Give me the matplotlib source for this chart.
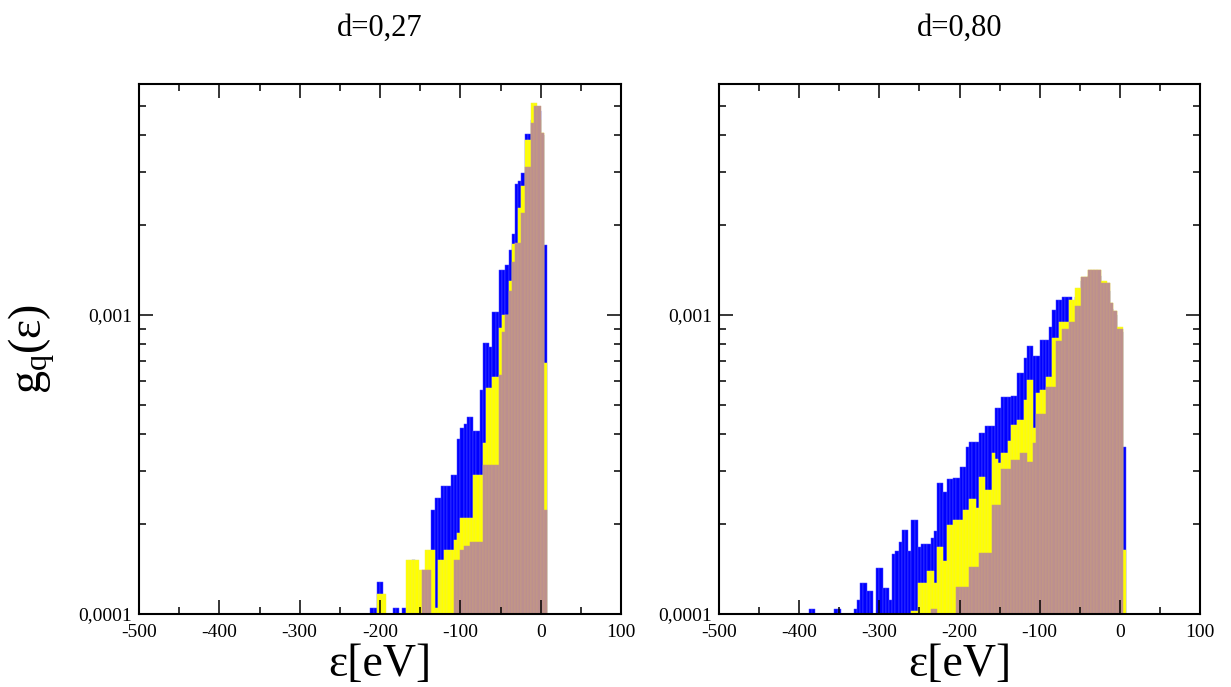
import numpy as np
import matplotlib
matplotlib.use("Agg")
import matplotlib.pyplot as plt
from matplotlib.ticker import FixedLocator, FixedFormatter, LogLocator, NullFormatter, MultipleLocator

plt.rcParams['font.family'] = ['Liberation Serif', 'DejaVu Serif']
plt.rcParams['mathtext.fontset'] = 'custom'
plt.rcParams['mathtext.rm'] = 'Liberation Serif'
plt.rcParams['mathtext.it'] = 'Liberation Serif'

# histogram bin width in eV
BIN = 4.0

# ---- panel d=0,27 : left edge of first bin and bar heights g_q(eps) ----
left_blue_start = -212
left_blue = [1.05e-4, 1.05e-4, 1.28e-4, 1.28e-4, 0, 0, 0, 1.05e-4, 1.05e-4, 0,
             1.05e-4, 0, 0, 1.52e-4, 1.2e-4, 1.2e-4, 1.2e-4, 1.3e-4, 1.3e-4, 2.22e-4,
             2.44e-4, 2.44e-4, 2.68e-4, 2.68e-4, 2.68e-4, 2.92e-4, 2.92e-4, 3.84e-4, 4.19e-4, 4.32e-4,
             4.56e-4, 4.56e-4, 4.08e-4, 4.08e-4, 5.61e-4, 8.04e-4, 8.04e-4, 7.82e-4, 1.02e-3, 1.02e-3,
             1.41e-3, 1.41e-3, 1.47e-3, 1.65e-3, 1.87e-3, 2.74e-3, 2.80e-3, 2.99e-3, 4.03e-3, 4.03e-3,
             4.5e-3, 4.8e-3, 4.8e-3, 4.0e-3, 1.71e-3]

left_yellow_start = -204
left_yellow = [1.17e-4, 1.17e-4, 1.17e-4, 0, 0, 0, 0, 0, 0,
               1.52e-4, 1.52e-4, 1.52e-4, 1.52e-4, 1.40e-4, 1.40e-4, 1.64e-4, 1.64e-4, 1.64e-4,
               1.05e-4, 1.52e-4, 1.52e-4, 1.64e-4, 1.64e-4, 1.64e-4, 1.77e-4, 1.87e-4, 2.09e-4,
               2.09e-4, 2.09e-4, 2.09e-4, 2.92e-4, 2.92e-4, 2.92e-4, 3.73e-4, 5.70e-4, 5.70e-4,
               6.20e-4, 6.20e-4, 9.05e-4, 1.0e-3, 1.0e-3, 1.3e-3, 1.73e-3, 1.73e-3, 2.28e-3,
               2.70e-3, 3.85e-3, 3.85e-3, 5.1e-3, 5.1e-3, 4.5e-3, 4.05e-3, 6.9e-4]

left_brown_start = -148
left_brown = [1.4e-4, 1.4e-4, 1.4e-4, 0, 0, 0, 0, 0, 0, 0,
              1.52e-4, 1.52e-4, 1.64e-4, 1.69e-4, 1.69e-4, 1.74e-4, 1.74e-4, 1.74e-4, 1.74e-4,
              3.15e-4, 3.15e-4, 3.15e-4, 3.15e-4, 3.15e-4, 6.3e-4, 8.8e-4, 1.0e-3, 1.2e-3, 1.5e-3,
              1.74e-3, 1.74e-3, 2.2e-3, 3.13e-3, 3.13e-3, 4.39e-3, 5.01e-3, 5.01e-3, 4.05e-3, 2.23e-4]

# ---- panel d=0,80 ----
right_blue_start = -392
right_blue = [0, 1.04e-4, 1.04e-4, 0, 0, 0, 0, 0, 0, 1.04e-4,
              1.04e-4, 0, 0, 0, 0, 1.04e-4, 1.11e-4, 1.27e-4, 1.27e-4, 1.19e-4,
              1.19e-4, 0, 1.43e-4, 1.43e-4, 1.22e-4, 1.22e-4, 1.11e-4, 1.59e-4, 1.63e-4, 1.74e-4,
              1.91e-4, 1.91e-4, 1.62e-4, 2.07e-4, 2.07e-4, 1.68e-4, 1.71e-4, 1.71e-4, 1.71e-4, 1.79e-4,
              1.90e-4, 2.74e-4, 2.74e-4, 2.55e-4, 2.82e-4, 2.82e-4, 2.86e-4, 2.86e-4, 3.10e-4, 3.10e-4,
              3.63e-4, 3.77e-4, 3.77e-4, 3.77e-4, 4.03e-4, 4.03e-4, 4.26e-4, 4.26e-4, 4.26e-4, 4.88e-4,
              4.88e-4, 5.33e-4, 5.33e-4, 5.33e-4, 5.36e-4, 5.36e-4, 6.42e-4, 6.42e-4, 7.20e-4, 7.90e-4,
              7.90e-4, 7.29e-4, 7.29e-4, 8.25e-4, 8.25e-4, 8.25e-4, 9.11e-4, 1.04e-3, 1.12e-3, 1.12e-3,
              1.15e-3, 1.15e-3, 1.15e-3, 1.10e-3, 1.15e-3, 1.2e-3, 1.3e-3, 1.3e-3, 1.35e-3, 1.35e-3,
              1.35e-3, 1.35e-3, 1.25e-3, 1.25e-3, 1.2e-3, 1.05e-3, 1.0e-3, 8.8e-4, 8.8e-4, 3.63e-4]

right_yellow_start = -260
right_yellow = [1.02e-4, 1.02e-4, 1.27e-4, 1.27e-4, 1.27e-4, 1.39e-4, 1.39e-4, 1.27e-4, 1.68e-4, 1.68e-4,
                1.50e-4, 1.99e-4, 1.99e-4, 2.07e-4, 2.07e-4, 2.07e-4, 2.23e-4, 2.23e-4, 2.43e-4, 2.43e-4,
                2.26e-4, 2.87e-4, 2.87e-4, 2.60e-4, 2.60e-4, 3.45e-4, 3.30e-4, 3.20e-4, 3.45e-4, 3.45e-4,
                3.80e-4, 4.30e-4, 4.30e-4, 4.45e-4, 4.45e-4, 5.20e-4, 6.06e-4, 6.06e-4, 4.19e-4, 5.49e-4,
                5.61e-4, 5.61e-4, 6.22e-4, 6.22e-4, 8.38e-4, 8.38e-4, 9.50e-4, 9.50e-4, 9.50e-4, 1.12e-3,
                1.12e-3, 1.23e-3, 1.23e-3, 1.34e-3, 1.34e-3, 1.41e-3, 1.41e-3, 1.41e-3, 1.41e-3, 1.30e-3,
                1.30e-3, 1.28e-3, 1.10e-3, 1.03e-3, 9.14e-4, 9.14e-4, 1.64e-4]

right_brown_start = -236
right_brown = [1.04e-4, 1.04e-4, 0, 0, 0, 0, 0, 0, 1.23e-4, 1.23e-4,
               1.23e-4, 1.23e-4, 1.44e-4, 1.44e-4, 1.44e-4, 1.60e-4, 1.60e-4, 1.60e-4, 1.60e-4, 2.32e-4,
               2.32e-4, 2.32e-4, 3.05e-4, 3.05e-4, 3.05e-4, 3.28e-4, 3.28e-4, 3.28e-4, 3.45e-4, 3.45e-4,
               3.23e-4, 3.23e-4, 3.73e-4, 4.67e-4, 4.67e-4, 4.67e-4, 5.76e-4, 5.76e-4, 5.76e-4, 8.20e-4,
               8.20e-4, 9.00e-4, 9.00e-4, 9.50e-4, 9.50e-4, 1.07e-3, 1.07e-3, 1.34e-3, 1.34e-3, 1.41e-3,
               1.41e-3, 1.41e-3, 1.41e-3, 1.28e-3, 1.28e-3, 1.28e-3, 1.10e-3, 1.03e-3, 8.96e-4, 8.96e-4]

titles = ["d=0,27", "d=0,80"]
xticks = [-500, -400, -300, -200, -100, 0, 100]
xtick_labels = ["-500", "-400", "-300", "-200", "-100", "0", "100"]
yticks = [1e-4, 1e-3]
ytick_labels = ["0,0001", "0,001"]

# fill colour and the slightly lighter outline of each bar
COLORS = ["#0000ff", "#ffff00", "#bc8f8f"]
EDGES = ["#4d4dff", "#f0f04a", "#c9a07c"]
YMIN, YMAX = 1e-4, 5.92e-3
FLOOR = 1e-6


def draw_hist(ax, start, heights, color, edge):
    h = np.asarray(heights, dtype=float)
    left = start + BIN * np.arange(len(h))
    keep = h > 0
    ax.bar(left[keep], h[keep] - FLOOR, width=BIN, bottom=FLOOR,
           align="edge", color=color, edgecolor=edge, linewidth=0.35)


fig = plt.figure(figsize=(12.31, 6.87), dpi=100)
ax_l = fig.add_axes([139 / 1231, 73 / 687, 482 / 1231, 530 / 687])
ax_r = fig.add_axes([719 / 1231, 73 / 687, 481 / 1231, 530 / 687])

panels = [
    (ax_l, [(left_blue_start, left_blue), (left_yellow_start, left_yellow), (left_brown_start, left_brown)]),
    (ax_r, [(right_blue_start, right_blue), (right_yellow_start, right_yellow), (right_brown_start, right_brown)]),
]

for i, (ax, series) in enumerate(panels):
    for (start, vals), col, edge in zip(series, COLORS, EDGES):
        draw_hist(ax, start, vals, col, edge)
    ax.set_yscale("log")
    ax.set_xlim(-500, 100)
    ax.set_ylim(YMIN, YMAX)
    ax.xaxis.set_major_locator(FixedLocator(xticks))
    ax.xaxis.set_major_formatter(FixedFormatter(xtick_labels))
    ax.xaxis.set_minor_locator(MultipleLocator(50))
    ax.yaxis.set_major_locator(FixedLocator(yticks))
    ax.yaxis.set_major_formatter(FixedFormatter(ytick_labels))
    ax.yaxis.set_minor_locator(LogLocator(base=10, subs=np.arange(2, 10)))
    ax.yaxis.set_minor_formatter(NullFormatter())
    ax.tick_params(which="both", direction="in", top=True, right=True, width=1.1)
    ax.tick_params(which="major", length=10, labelsize=14)
    ax.tick_params(which="minor", length=5)
    ax.tick_params(axis="x", pad=7)
    ax.tick_params(axis="y", pad=5)
    for sp in ax.spines.values():
        sp.set_linewidth(1.5)
        sp.set_zorder(3)
    ax.set_title(titles[i], fontsize=22, pad=35)
    ax.set_xlabel("ε[eV]", fontsize=33)
    ax.xaxis.set_label_coords(0.5, -0.055)

fig.text(32 / 1231, 1 - 349 / 687, r"g$_{\mathregular{q}}$(ε)", rotation=90,
         ha="center", va="center", fontsize=33)

fig.savefig("out.png", dpi=100)
